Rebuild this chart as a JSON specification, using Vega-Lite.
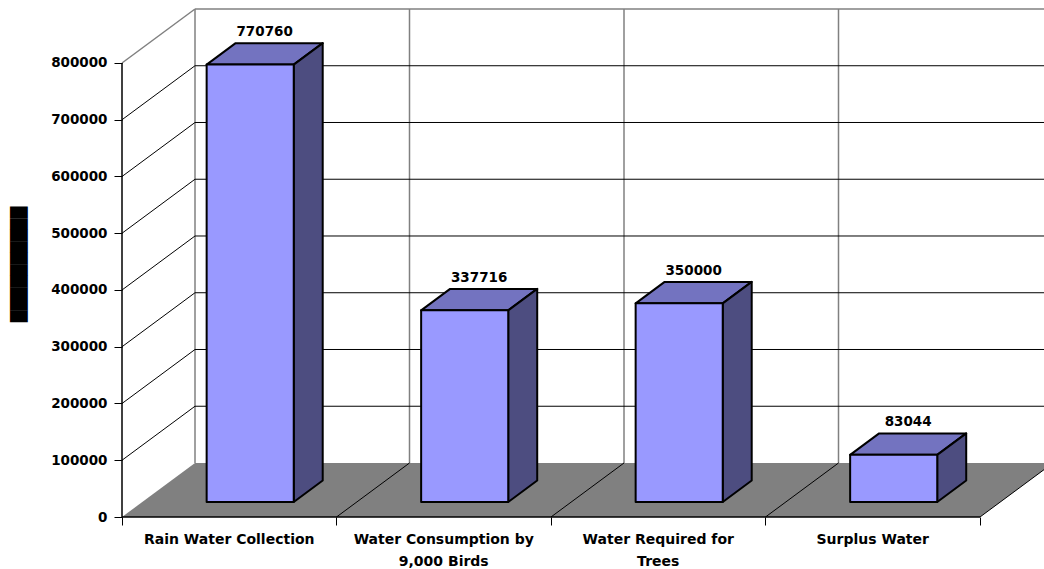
{
  "$schema": "https://vega.github.io/schema/vega-lite/v6.json",
  "width": 922,
  "height": 517,
  "autosize": {"type": "none"},
  "padding": {"left": 122, "top": 0, "right": 0, "bottom": 52},
  "background": "white",
  "config": {"view": {"stroke": null}, "font": "DejaVu Sans"},
  "resolve": {"axis": {"x": "independent", "y": "independent"}},
  "datasets": {
    "bars": [
      {"cat": "Rain Water Collection", "idx": 0, "value": 770760},
      {"cat": "Water Consumption by\n9,000 Birds", "idx": 1, "value": 337716},
      {"cat": "Water Required for\nTrees", "idx": 2, "value": 350000},
      {"cat": "Surplus Water", "idx": 3, "value": 83044}
    ],
    "levels": [
      {"v": 0}, {"v": 100000}, {"v": 200000}, {"v": 300000}, {"v": 400000},
      {"v": 500000}, {"v": 600000}, {"v": 700000}, {"v": 800000}
    ],
    "edges": [{"b": 0}, {"b": 1}, {"b": 2}, {"b": 3}, {"b": 4}],
    "depth": [{"end": "front"}, {"end": "back"}]
  },
  "layer": [
    {
      "data": {"name": "depth"},
      "transform": [
        {"calculate": "datum.end == 'back' ? 1 : 0", "as": "t"},
        {"calculate": "datum.t * 95153", "as": "fy"},
        {"calculate": "datum.t * 0.34033", "as": "fx0"},
        {"calculate": "4 + datum.t * 0.34033", "as": "fx1"}
      ],
      "mark": {"type": "area", "orient": "horizontal", "fill": "#808080"},
      "encoding": {
        "y": {"field": "fy", "type": "quantitative", "scale": {"domain": [0, 911000], "nice": false, "zero": false}, "axis": null},
        "x": {"field": "fx0", "type": "quantitative", "scale": {"domain": [0, 4.29837], "nice": false, "zero": false}, "axis": null},
        "x2": {"field": "fx1"}
      }
    },
    {
      "data": {"name": "edges"},
      "transform": [{"calculate": "datum.b + 0.34033", "as": "bx"}],
      "mark": {"type": "rule", "color": "#808080", "strokeWidth": 1.5},
      "encoding": {
        "x": {"field": "bx", "type": "quantitative", "scale": {"domain": [0, 4.29837], "nice": false, "zero": false}, "axis": null},
        "y": {"datum": 95153, "type": "quantitative", "scale": {"domain": [0, 911000], "nice": false, "zero": false}, "axis": null},
        "y2": {"datum": 895153}
      }
    },
    {
      "data": {"name": "levels"},
      "transform": [{"filter": "datum.v > 0"}, {"calculate": "datum.v + 95153", "as": "gy"}],
      "mark": {"type": "rule"},
      "encoding": {
        "x": {"datum": 0.34033, "type": "quantitative", "scale": {"domain": [0, 4.29837], "nice": false, "zero": false}, "axis": null},
        "x2": {"datum": 4.34033},
        "y": {"field": "gy", "type": "quantitative", "scale": {"domain": [0, 911000], "nice": false, "zero": false}, "axis": null},
        "color": {"condition": {"test": "datum.v == 800000", "value": "#808080"}, "value": "black"},
        "strokeWidth": {"condition": {"test": "datum.v == 800000", "value": 1.5}, "value": 1}
      }
    },
    {
      "data": {"name": "levels"},
      "transform": [{"calculate": "datum.v + 95153", "as": "gy"}],
      "mark": {"type": "rule"},
      "encoding": {
        "x": {"datum": 0, "type": "quantitative", "scale": {"domain": [0, 4.29837], "nice": false, "zero": false}, "axis": null},
        "x2": {"datum": 0.34033},
        "y": {
          "field": "v", "type": "quantitative",
          "scale": {"domain": [0, 911000], "nice": false, "zero": false},
          "axis": {
            "values": [0, 100000, 200000, 300000, 400000, 500000, 600000, 700000, 800000],
            "format": "d", "domain": false, "grid": false,
            "ticks": true, "tickSize": 8, "tickColor": "black", "tickWidth": 1,
            "labelFont": "DejaVu Sans", "labelFontSize": 13.5, "labelFontWeight": "bold", "labelColor": "black", "labelPadding": 7,
            "title": "██████████", "titleFontSize": 15, "titleColor": "black", "titleFontWeight": "normal", "titlePadding": 24, "titleY": 264
          }
        },
        "y2": {"field": "gy"},
        "color": {"condition": {"test": "datum.v == 800000", "value": "#808080"}, "value": "black"},
        "opacity": {"condition": {"test": "datum.v == 0", "value": 0}, "value": 1},
        "strokeWidth": {"condition": {"test": "datum.v == 800000", "value": 1.5}, "value": 1}
      }
    },
    {
      "data": {"name": "edges"},
      "transform": [{"calculate": "datum.b + 0.34033", "as": "bx"}],
      "mark": {"type": "rule", "color": "black"},
      "encoding": {
        "x": {
          "field": "b", "type": "quantitative",
          "scale": {"domain": [0, 4.29837], "nice": false, "zero": false},
          "axis": {"values": [0, 1, 2, 3, 4], "labels": false, "domain": false, "grid": false, "ticks": true, "tickSize": 8, "tickColor": "black", "tickWidth": 1, "title": null}
        },
        "x2": {"field": "bx"},
        "y": {"datum": 0, "type": "quantitative", "scale": {"domain": [0, 911000], "nice": false, "zero": false}, "axis": null},
        "y2": {"datum": 95153},
        "opacity": {"condition": {"test": "datum.b == 0", "value": 0}, "value": 1}
      }
    },
    {
      "data": {"name": "levels"},
      "transform": [{"filter": "datum.v == 0"}],
      "mark": {"type": "rule", "color": "black", "strokeWidth": 1.5},
      "encoding": {
        "x": {"datum": 0, "type": "quantitative", "scale": {"domain": [0, 4.29837], "nice": false, "zero": false}, "axis": null},
        "x2": {"datum": 4},
        "y": {"field": "v", "type": "quantitative", "scale": {"domain": [0, 911000], "nice": false, "zero": false}, "axis": null}
      }
    },
    {
      "data": {"name": "levels"},
      "transform": [{"filter": "datum.v == 800000"}],
      "mark": {"type": "rule", "color": "black", "strokeWidth": 1.5},
      "encoding": {
        "x": {"datum": 0, "type": "quantitative", "scale": {"domain": [0, 4.29837], "nice": false, "zero": false}, "axis": null},
        "y": {"field": "v", "type": "quantitative", "scale": {"domain": [0, 911000], "nice": false, "zero": false}, "axis": null},
        "y2": {"datum": 0}
      }
    },
    {
      "data": {"name": "bars"},
      "transform": [
        {"calculate": "0", "as": "e0"},
        {"calculate": "1", "as": "e1"},
        {"fold": ["e0", "e1"], "as": ["end", "t"]},
        {"calculate": "0.278 + datum.t * 0.397", "as": "f"},
        {"calculate": "datum.idx + 0.3 + datum.f * 0.34033", "as": "xl"},
        {"calculate": "datum.idx + 0.706 + datum.f * 0.34033", "as": "xr"},
        {"calculate": "datum.f * 95153", "as": "yb"},
        {"calculate": "datum.yb + datum.value", "as": "yt"}
      ],
      "layer": [
        {
          "mark": {"type": "area", "orient": "horizontal", "fill": "#7373C0", "stroke": "black", "strokeWidth": 2, "strokeJoin": "round"},
          "encoding": {
            "y": {"field": "yt", "type": "quantitative", "scale": {"domain": [0, 911000], "nice": false, "zero": false}, "axis": null},
            "x": {"field": "xl", "type": "quantitative", "scale": {"domain": [0, 4.29837], "nice": false, "zero": false}, "axis": null},
            "x2": {"field": "xr"},
            "detail": {"field": "cat", "type": "nominal"}
          }
        },
        {
          "mark": {"type": "area", "orient": "vertical", "fill": "#4D4D80", "stroke": "black", "strokeWidth": 2, "strokeJoin": "round"},
          "encoding": {
            "x": {"field": "xr", "type": "quantitative", "scale": {"domain": [0, 4.29837], "nice": false, "zero": false}, "axis": null},
            "y": {"field": "yt", "type": "quantitative", "scale": {"domain": [0, 911000], "nice": false, "zero": false}, "axis": null},
            "y2": {"field": "yb"},
            "detail": {"field": "cat", "type": "nominal"}
          }
        },
        {
          "transform": [{"filter": "datum.t == 0"}],
          "mark": {"type": "rect", "fill": "#9999FF", "stroke": "black", "strokeWidth": 2, "strokeJoin": "round"},
          "encoding": {
            "x": {"field": "xl", "type": "quantitative", "scale": {"domain": [0, 4.29837], "nice": false, "zero": false}, "axis": null},
            "x2": {"field": "xr"},
            "y": {"field": "yb", "type": "quantitative", "scale": {"domain": [0, 911000], "nice": false, "zero": false}, "axis": null},
            "y2": {"field": "yt"}
          }
        },
        {
          "transform": [{"filter": "datum.t == 1"}, {"calculate": "datum.idx + 0.665", "as": "xm"}],
          "mark": {"type": "text", "font": "DejaVu Sans", "fontWeight": "bold", "fontSize": 13.5, "baseline": "alphabetic", "dy": -7, "color": "black"},
          "encoding": {
            "x": {"field": "xm", "type": "quantitative", "scale": {"domain": [0, 4.29837], "nice": false, "zero": false}, "axis": null},
            "y": {"field": "yt", "type": "quantitative", "scale": {"domain": [0, 911000], "nice": false, "zero": false}, "axis": null},
            "text": {"field": "value", "type": "quantitative", "format": "d"}
          }
        }
      ]
    },
    {
      "data": {"name": "bars"},
      "transform": [{"calculate": "datum.idx + 0.5", "as": "xc"}],
      "mark": {"type": "text", "font": "DejaVu Sans", "fontWeight": "bold", "fontSize": 14, "baseline": "alphabetic", "dy": 27, "lineBreak": "\n", "lineHeight": 22, "color": "black"},
      "encoding": {
        "x": {"field": "xc", "type": "quantitative", "scale": {"domain": [0, 4.29837], "nice": false, "zero": false}, "axis": null},
        "y": {"datum": 0, "type": "quantitative", "scale": {"domain": [0, 911000], "nice": false, "zero": false}, "axis": null},
        "text": {"field": "cat", "type": "nominal"}
      }
    }
  ]
}
